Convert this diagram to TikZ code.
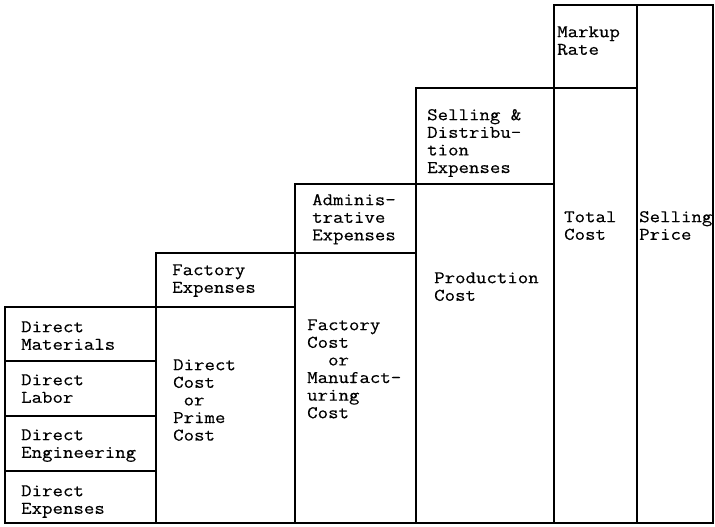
\documentclass[tikz,border=0pt]{standalone}
\usepackage{fontspec}
\newfontfamily\courlike{Latin Modern Mono}[FakeStretch=1.14,FakeBold=0.4]
\begin{document}
% Cost build-up staircase: each column stacks an expense on the cost before it
\begin{tikzpicture}[x=1pt,y=-1pt,
  costbox/.style={draw=black,line width=1.5pt},
  lbl/.style={anchor=north west,inner sep=0pt,align=left,
    font=\courlike\fontsize{17.8}{17.6}\selectfont}]
\useasboundingbox (0,0) rectangle (715,527);
\newcommand\fl{\rule{0pt}{13pt}}
% boxes
\draw[costbox] (5,307) rectangle (156,361);
\draw[costbox] (5,361) rectangle (156,416);
\draw[costbox] (5,416) rectangle (156,471);
\draw[costbox] (5,471) rectangle (156,523);
\draw[costbox] (156,253) rectangle (295,307);
\draw[costbox] (156,307) rectangle (295,523);
\draw[costbox] (295,184) rectangle (416,253);
\draw[costbox] (295,253) rectangle (416,523);
\draw[costbox] (416,88) rectangle (554,184);
\draw[costbox] (416,184) rectangle (554,523);
\draw[costbox] (554,5) rectangle (637,88);
\draw[costbox] (554,88) rectangle (637,523);
\draw[costbox] (637,5) rectangle (713,523);
% labels (placed by first baseline minus 13pt)
\node[lbl] (dm) at (21,319) {\fl Direct\\Materials};
\node[lbl] (dl) at (21,372) {\fl Direct\\Labor};
\node[lbl] (de) at (21,427) {\fl Direct\\Engineering};
\node[lbl] (dx) at (21,483) {\fl Direct\\Expenses};
\node[lbl] (fe) at (172,262) {\fl Factory\\Expenses};
\node[lbl] (dc) at (173,357) {\fl Direct\\Cost\\\ or\\Prime\\Cost};
\node[lbl] (ae) at (312,192) {\fl Adminis-\\trative\\Expenses};
\node[lbl] (fc) at (307,317) {\fl Factory\\Cost\\\ \ or\\Manufact-\\uring\\Cost};
\node[lbl] (se) at (427,107) {\fl Selling \&\\Distribu-\\tion\\Expenses};
\node[lbl] (pc) at (434,270) {\fl Production\\Cost};
\node[lbl] (mr) at (557,24) {\fl Markup\\Rate};
\node[lbl] (tc) at (564,209) {\fl Total\\Cost};
\node[lbl] (sp) at (639,209) {\fl Selling\\Price};
\end{tikzpicture}
\end{document}
